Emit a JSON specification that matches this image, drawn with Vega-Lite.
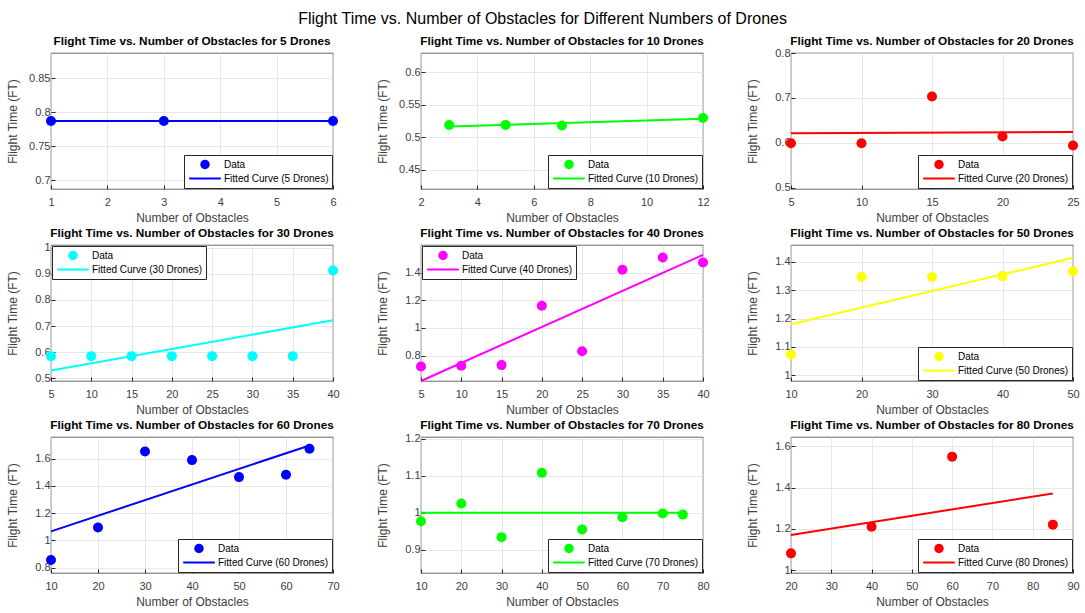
{
  "$schema": "https://vega.github.io/schema/vega-lite/v6.json",
  "title": {"text": "Flight Time vs. Number of Obstacles for Different Numbers of Drones", "fontSize": 16, "fontWeight": "normal", "font": "Liberation Sans", "color": "#000000", "anchor": "middle", "frame": "bounds", "offset": 9},
  "padding": {"left": 5, "right": 5, "top": 10, "bottom": 0},
  "data": {"values": [
    {"n": 5, "obstacles": 1, "ft": 0.787, "series": "Data"},
    {"n": 5, "obstacles": 3, "ft": 0.787, "series": "Data"},
    {"n": 5, "obstacles": 6, "ft": 0.787, "series": "Data"},
    {"n": 5, "obstacles": 1, "ft": 0.787, "series": "Fitted Curve (5 Drones)"},
    {"n": 5, "obstacles": 6, "ft": 0.787, "series": "Fitted Curve (5 Drones)"},
    {"n": 10, "obstacles": 3, "ft": 0.5187, "series": "Data"},
    {"n": 10, "obstacles": 5, "ft": 0.519, "series": "Data"},
    {"n": 10, "obstacles": 7, "ft": 0.518, "series": "Data"},
    {"n": 10, "obstacles": 12, "ft": 0.5295, "series": "Data"},
    {"n": 10, "obstacles": 3, "ft": 0.5165, "series": "Fitted Curve (10 Drones)"},
    {"n": 10, "obstacles": 12, "ft": 0.5285, "series": "Fitted Curve (10 Drones)"},
    {"n": 20, "obstacles": 5, "ft": 0.599, "series": "Data"},
    {"n": 20, "obstacles": 10, "ft": 0.599, "series": "Data"},
    {"n": 20, "obstacles": 15, "ft": 0.703, "series": "Data"},
    {"n": 20, "obstacles": 20, "ft": 0.614, "series": "Data"},
    {"n": 20, "obstacles": 25, "ft": 0.594, "series": "Data"},
    {"n": 20, "obstacles": 5, "ft": 0.621, "series": "Fitted Curve (20 Drones)"},
    {"n": 20, "obstacles": 25, "ft": 0.624, "series": "Fitted Curve (20 Drones)"},
    {"n": 30, "obstacles": 5, "ft": 0.585, "series": "Data"},
    {"n": 30, "obstacles": 10, "ft": 0.585, "series": "Data"},
    {"n": 30, "obstacles": 15, "ft": 0.585, "series": "Data"},
    {"n": 30, "obstacles": 20, "ft": 0.585, "series": "Data"},
    {"n": 30, "obstacles": 25, "ft": 0.585, "series": "Data"},
    {"n": 30, "obstacles": 30, "ft": 0.585, "series": "Data"},
    {"n": 30, "obstacles": 35, "ft": 0.585, "series": "Data"},
    {"n": 30, "obstacles": 40, "ft": 0.9125, "series": "Data"},
    {"n": 30, "obstacles": 5, "ft": 0.53, "series": "Fitted Curve (30 Drones)"},
    {"n": 30, "obstacles": 40, "ft": 0.722, "series": "Fitted Curve (30 Drones)"},
    {"n": 40, "obstacles": 5, "ft": 0.721, "series": "Data"},
    {"n": 40, "obstacles": 10, "ft": 0.726, "series": "Data"},
    {"n": 40, "obstacles": 15, "ft": 0.731, "series": "Data"},
    {"n": 40, "obstacles": 20, "ft": 1.16, "series": "Data"},
    {"n": 40, "obstacles": 25, "ft": 0.831, "series": "Data"},
    {"n": 40, "obstacles": 30, "ft": 1.421, "series": "Data"},
    {"n": 40, "obstacles": 35, "ft": 1.51, "series": "Data"},
    {"n": 40, "obstacles": 40, "ft": 1.474, "series": "Data"},
    {"n": 40, "obstacles": 5, "ft": 0.616, "series": "Fitted Curve (40 Drones)"},
    {"n": 40, "obstacles": 40, "ft": 1.528, "series": "Fitted Curve (40 Drones)"},
    {"n": 50, "obstacles": 10, "ft": 1.073, "series": "Data"},
    {"n": 50, "obstacles": 20, "ft": 1.347, "series": "Data"},
    {"n": 50, "obstacles": 30, "ft": 1.347, "series": "Data"},
    {"n": 50, "obstacles": 40, "ft": 1.35, "series": "Data"},
    {"n": 50, "obstacles": 50, "ft": 1.366, "series": "Data"},
    {"n": 50, "obstacles": 10, "ft": 1.18, "series": "Fitted Curve (50 Drones)"},
    {"n": 50, "obstacles": 50, "ft": 1.415, "series": "Fitted Curve (50 Drones)"},
    {"n": 60, "obstacles": 10, "ft": 0.856, "series": "Data"},
    {"n": 60, "obstacles": 20, "ft": 1.095, "series": "Data"},
    {"n": 60, "obstacles": 30, "ft": 1.653, "series": "Data"},
    {"n": 60, "obstacles": 40, "ft": 1.59, "series": "Data"},
    {"n": 60, "obstacles": 50, "ft": 1.465, "series": "Data"},
    {"n": 60, "obstacles": 60, "ft": 1.483, "series": "Data"},
    {"n": 60, "obstacles": 65, "ft": 1.673, "series": "Data"},
    {"n": 60, "obstacles": 10, "ft": 1.066, "series": "Fitted Curve (60 Drones)"},
    {"n": 60, "obstacles": 65, "ft": 1.698, "series": "Fitted Curve (60 Drones)"},
    {"n": 70, "obstacles": 10, "ft": 0.977, "series": "Data"},
    {"n": 70, "obstacles": 20, "ft": 1.025, "series": "Data"},
    {"n": 70, "obstacles": 30, "ft": 0.934, "series": "Data"},
    {"n": 70, "obstacles": 40, "ft": 1.108, "series": "Data"},
    {"n": 70, "obstacles": 50, "ft": 0.955, "series": "Data"},
    {"n": 70, "obstacles": 60, "ft": 0.988, "series": "Data"},
    {"n": 70, "obstacles": 70, "ft": 0.998, "series": "Data"},
    {"n": 70, "obstacles": 75, "ft": 0.995, "series": "Data"},
    {"n": 70, "obstacles": 10, "ft": 1.0, "series": "Fitted Curve (70 Drones)"},
    {"n": 70, "obstacles": 75, "ft": 1.0, "series": "Fitted Curve (70 Drones)"},
    {"n": 80, "obstacles": 20, "ft": 1.082, "series": "Data"},
    {"n": 80, "obstacles": 40, "ft": 1.211, "series": "Data"},
    {"n": 80, "obstacles": 60, "ft": 1.55, "series": "Data"},
    {"n": 80, "obstacles": 85, "ft": 1.221, "series": "Data"},
    {"n": 80, "obstacles": 20, "ft": 1.171, "series": "Fitted Curve (80 Drones)"},
    {"n": 80, "obstacles": 85, "ft": 1.372, "series": "Fitted Curve (80 Drones)"}
  ]},
  "columns": 3,
  "spacing": {"row": 3, "column": 35},
  "resolve": {"scale": {"color": "independent", "x": "independent", "y": "independent"}, "legend": {"color": "independent"}, "axis": {"x": "independent", "y": "independent"}},
  "concat": [
    {
      "width": 282, "height": 136,
      "title": "Flight Time vs. Number of Obstacles for 5 Drones",
      "transform": [{"filter": "datum.n == 5"}],
      "encoding": {
        "x": {"field": "obstacles", "type": "quantitative", "scale": {"domain": [1, 6], "nice": false, "zero": false}, "axis": {"values": [1, 2, 3, 4, 5, 6], "title": "Number of Obstacles"}},
        "y": {"field": "ft", "type": "quantitative", "scale": {"domain": [0.687, 0.887], "nice": false, "zero": false}, "axis": {"values": [0.7, 0.75, 0.8, 0.85], "format": "~g", "title": "Flight Time (FT)"}},
        "color": {"field": "series", "type": "nominal", "scale": {"domain": ["Data", "Fitted Curve (5 Drones)"], "range": ["#0000ff", "#0000ff"]},
          "legend": {"orient": "bottom-right", "encode": {"symbols": {"update": {"shape": {"signal": "datum.value === 'Data' ? 'circle' : 'stroke'"}, "size": {"signal": "datum.value === 'Data' ? 90 : 1000"}, "fill": {"signal": "datum.value === 'Data' ? '#0000ff' : 'transparent'"}, "stroke": {"value": "#0000ff"}, "strokeWidth": {"signal": "datum.value === 'Data' ? 0 : 2"}, "opacity": {"value": 1}}}}}}
      },
      "layer": [
        {"transform": [{"filter": "datum.series == 'Data'"}], "mark": {"type": "point", "filled": true, "size": 100, "opacity": 1}},
        {"transform": [{"filter": "datum.series != 'Data'"}], "mark": {"type": "line", "strokeWidth": 2}}
      ]
    },
    {
      "width": 282, "height": 136,
      "title": "Flight Time vs. Number of Obstacles for 10 Drones",
      "transform": [{"filter": "datum.n == 10"}],
      "encoding": {
        "x": {"field": "obstacles", "type": "quantitative", "scale": {"domain": [2, 12], "nice": false, "zero": false}, "axis": {"values": [2, 4, 6, 8, 10, 12], "title": "Number of Obstacles"}},
        "y": {"field": "ft", "type": "quantitative", "scale": {"domain": [0.42, 0.63], "nice": false, "zero": false}, "axis": {"values": [0.45, 0.5, 0.55, 0.6], "format": "~g", "title": "Flight Time (FT)"}},
        "color": {"field": "series", "type": "nominal", "scale": {"domain": ["Data", "Fitted Curve (10 Drones)"], "range": ["#00ff00", "#00ff00"]},
          "legend": {"orient": "bottom-right", "encode": {"symbols": {"update": {"shape": {"signal": "datum.value === 'Data' ? 'circle' : 'stroke'"}, "size": {"signal": "datum.value === 'Data' ? 90 : 1000"}, "fill": {"signal": "datum.value === 'Data' ? '#00ff00' : 'transparent'"}, "stroke": {"value": "#00ff00"}, "strokeWidth": {"signal": "datum.value === 'Data' ? 0 : 2"}, "opacity": {"value": 1}}}}}}
      },
      "layer": [
        {"transform": [{"filter": "datum.series == 'Data'"}], "mark": {"type": "point", "filled": true, "size": 100, "opacity": 1}},
        {"transform": [{"filter": "datum.series != 'Data'"}], "mark": {"type": "line", "strokeWidth": 2}}
      ]
    },
    {
      "width": 282, "height": 136,
      "title": {"text": "Flight Time vs. Number of Obstacles for 20 Drones", "offset": -1},
      "transform": [{"filter": "datum.n == 20"}],
      "encoding": {
        "x": {"field": "obstacles", "type": "quantitative", "scale": {"domain": [5, 25], "nice": false, "zero": false}, "axis": {"values": [5, 10, 15, 20, 25], "title": "Number of Obstacles"}},
        "y": {"field": "ft", "type": "quantitative", "scale": {"domain": [0.497, 0.8], "nice": false, "zero": false}, "axis": {"values": [0.5, 0.6, 0.7, 0.8], "format": "~g", "title": "Flight Time (FT)"}},
        "color": {"field": "series", "type": "nominal", "scale": {"domain": ["Data", "Fitted Curve (20 Drones)"], "range": ["#ff0000", "#ff0000"]},
          "legend": {"orient": "bottom-right", "encode": {"symbols": {"update": {"shape": {"signal": "datum.value === 'Data' ? 'circle' : 'stroke'"}, "size": {"signal": "datum.value === 'Data' ? 90 : 1000"}, "fill": {"signal": "datum.value === 'Data' ? '#ff0000' : 'transparent'"}, "stroke": {"value": "#ff0000"}, "strokeWidth": {"signal": "datum.value === 'Data' ? 0 : 2"}, "opacity": {"value": 1}}}}}}
      },
      "layer": [
        {"transform": [{"filter": "datum.series == 'Data'"}], "mark": {"type": "point", "filled": true, "size": 100, "opacity": 1}},
        {"transform": [{"filter": "datum.series != 'Data'"}], "mark": {"type": "line", "strokeWidth": 2}}
      ]
    },
    {
      "width": 282, "height": 136,
      "title": {"text": "Flight Time vs. Number of Obstacles for 30 Drones", "offset": 1.5},
      "transform": [{"filter": "datum.n == 30"}],
      "encoding": {
        "x": {"field": "obstacles", "type": "quantitative", "scale": {"domain": [5, 40], "nice": false, "zero": false}, "axis": {"values": [5, 10, 15, 20, 25, 30, 35, 40], "title": "Number of Obstacles"}},
        "y": {"field": "ft", "type": "quantitative", "scale": {"domain": [0.49, 1.01], "nice": false, "zero": false}, "axis": {"values": [0.5, 0.6, 0.7, 0.8, 0.9, 1], "format": "~g", "title": "Flight Time (FT)"}},
        "color": {"field": "series", "type": "nominal", "scale": {"domain": ["Data", "Fitted Curve (30 Drones)"], "range": ["#00ffff", "#00ffff"]},
          "legend": {"orient": "top-left", "encode": {"symbols": {"update": {"shape": {"signal": "datum.value === 'Data' ? 'circle' : 'stroke'"}, "size": {"signal": "datum.value === 'Data' ? 90 : 1000"}, "fill": {"signal": "datum.value === 'Data' ? '#00ffff' : 'transparent'"}, "stroke": {"value": "#00ffff"}, "strokeWidth": {"signal": "datum.value === 'Data' ? 0 : 2"}, "opacity": {"value": 1}}}}}}
      },
      "layer": [
        {"transform": [{"filter": "datum.series == 'Data'"}], "mark": {"type": "point", "filled": true, "size": 100, "opacity": 1}},
        {"transform": [{"filter": "datum.series != 'Data'"}], "mark": {"type": "line", "strokeWidth": 2}}
      ]
    },
    {
      "width": 282, "height": 136,
      "title": "Flight Time vs. Number of Obstacles for 40 Drones",
      "transform": [{"filter": "datum.n == 40"}],
      "encoding": {
        "x": {"field": "obstacles", "type": "quantitative", "scale": {"domain": [5, 40], "nice": false, "zero": false}, "axis": {"values": [5, 10, 15, 20, 25, 30, 35, 40], "title": "Number of Obstacles"}},
        "y": {"field": "ft", "type": "quantitative", "scale": {"domain": [0.616, 1.6], "nice": false, "zero": false}, "axis": {"values": [0.8, 1, 1.2, 1.4], "format": "~g", "title": "Flight Time (FT)"}},
        "color": {"field": "series", "type": "nominal", "scale": {"domain": ["Data", "Fitted Curve (40 Drones)"], "range": ["#ff00ff", "#ff00ff"]},
          "legend": {"orient": "top-left", "encode": {"symbols": {"update": {"shape": {"signal": "datum.value === 'Data' ? 'circle' : 'stroke'"}, "size": {"signal": "datum.value === 'Data' ? 90 : 1000"}, "fill": {"signal": "datum.value === 'Data' ? '#ff00ff' : 'transparent'"}, "stroke": {"value": "#ff00ff"}, "strokeWidth": {"signal": "datum.value === 'Data' ? 0 : 2"}, "opacity": {"value": 1}}}}}}
      },
      "layer": [
        {"transform": [{"filter": "datum.series == 'Data'"}], "mark": {"type": "point", "filled": true, "size": 100, "opacity": 1}},
        {"transform": [{"filter": "datum.series != 'Data'"}], "mark": {"type": "line", "strokeWidth": 2}}
      ]
    },
    {
      "width": 282, "height": 136,
      "title": "Flight Time vs. Number of Obstacles for 50 Drones",
      "transform": [{"filter": "datum.n == 50"}],
      "encoding": {
        "x": {"field": "obstacles", "type": "quantitative", "scale": {"domain": [10, 50], "nice": false, "zero": false}, "axis": {"values": [10, 20, 30, 40, 50], "title": "Number of Obstacles"}},
        "y": {"field": "ft", "type": "quantitative", "scale": {"domain": [0.979, 1.46], "nice": false, "zero": false}, "axis": {"values": [1, 1.1, 1.2, 1.3, 1.4], "format": "~g", "title": "Flight Time (FT)"}},
        "color": {"field": "series", "type": "nominal", "scale": {"domain": ["Data", "Fitted Curve (50 Drones)"], "range": ["#ffff00", "#ffff00"]},
          "legend": {"orient": "bottom-right", "encode": {"symbols": {"update": {"shape": {"signal": "datum.value === 'Data' ? 'circle' : 'stroke'"}, "size": {"signal": "datum.value === 'Data' ? 90 : 1000"}, "fill": {"signal": "datum.value === 'Data' ? '#ffff00' : 'transparent'"}, "stroke": {"value": "#ffff00"}, "strokeWidth": {"signal": "datum.value === 'Data' ? 0 : 2"}, "opacity": {"value": 1}}}}}}
      },
      "layer": [
        {"transform": [{"filter": "datum.series == 'Data'"}], "mark": {"type": "point", "filled": true, "size": 100, "opacity": 1}},
        {"transform": [{"filter": "datum.series != 'Data'"}], "mark": {"type": "line", "strokeWidth": 2}}
      ]
    },
    {
      "width": 282, "height": 136,
      "title": "Flight Time vs. Number of Obstacles for 60 Drones",
      "transform": [{"filter": "datum.n == 60"}],
      "encoding": {
        "x": {"field": "obstacles", "type": "quantitative", "scale": {"domain": [10, 70], "nice": false, "zero": false}, "axis": {"values": [10, 20, 30, 40, 50, 60, 70], "title": "Number of Obstacles"}},
        "y": {"field": "ft", "type": "quantitative", "scale": {"domain": [0.76, 1.76], "nice": false, "zero": false}, "axis": {"values": [0.8, 1, 1.2, 1.4, 1.6], "format": "~g", "title": "Flight Time (FT)"}},
        "color": {"field": "series", "type": "nominal", "scale": {"domain": ["Data", "Fitted Curve (60 Drones)"], "range": ["#0000ff", "#0000ff"]},
          "legend": {"orient": "bottom-right", "encode": {"symbols": {"update": {"shape": {"signal": "datum.value === 'Data' ? 'circle' : 'stroke'"}, "size": {"signal": "datum.value === 'Data' ? 90 : 1000"}, "fill": {"signal": "datum.value === 'Data' ? '#0000ff' : 'transparent'"}, "stroke": {"value": "#0000ff"}, "strokeWidth": {"signal": "datum.value === 'Data' ? 0 : 2"}, "opacity": {"value": 1}}}}}}
      },
      "layer": [
        {"transform": [{"filter": "datum.series == 'Data'"}], "mark": {"type": "point", "filled": true, "size": 100, "opacity": 1}},
        {"transform": [{"filter": "datum.series != 'Data'"}], "mark": {"type": "line", "strokeWidth": 2}}
      ]
    },
    {
      "width": 282, "height": 136,
      "title": {"text": "Flight Time vs. Number of Obstacles for 70 Drones", "offset": 1},
      "transform": [{"filter": "datum.n == 70"}],
      "encoding": {
        "x": {"field": "obstacles", "type": "quantitative", "scale": {"domain": [10, 80], "nice": false, "zero": false}, "axis": {"values": [10, 20, 30, 40, 50, 60, 70, 80], "title": "Number of Obstacles"}},
        "y": {"field": "ft", "type": "quantitative", "scale": {"domain": [0.837, 1.205], "nice": false, "zero": false}, "axis": {"values": [0.9, 1, 1.1, 1.2], "format": "~g", "title": "Flight Time (FT)"}},
        "color": {"field": "series", "type": "nominal", "scale": {"domain": ["Data", "Fitted Curve (70 Drones)"], "range": ["#00ff00", "#00ff00"]},
          "legend": {"orient": "bottom-right", "encode": {"symbols": {"update": {"shape": {"signal": "datum.value === 'Data' ? 'circle' : 'stroke'"}, "size": {"signal": "datum.value === 'Data' ? 90 : 1000"}, "fill": {"signal": "datum.value === 'Data' ? '#00ff00' : 'transparent'"}, "stroke": {"value": "#00ff00"}, "strokeWidth": {"signal": "datum.value === 'Data' ? 0 : 2"}, "opacity": {"value": 1}}}}}}
      },
      "layer": [
        {"transform": [{"filter": "datum.series == 'Data'"}], "mark": {"type": "point", "filled": true, "size": 100, "opacity": 1}},
        {"transform": [{"filter": "datum.series != 'Data'"}], "mark": {"type": "line", "strokeWidth": 2}}
      ]
    },
    {
      "width": 282, "height": 136,
      "title": "Flight Time vs. Number of Obstacles for 80 Drones",
      "transform": [{"filter": "datum.n == 80"}],
      "encoding": {
        "x": {"field": "obstacles", "type": "quantitative", "scale": {"domain": [20, 90], "nice": false, "zero": false}, "axis": {"values": [20, 30, 40, 50, 60, 70, 80, 90], "title": "Number of Obstacles"}},
        "y": {"field": "ft", "type": "quantitative", "scale": {"domain": [0.987, 1.645], "nice": false, "zero": false}, "axis": {"values": [1, 1.2, 1.4, 1.6], "format": "~g", "title": "Flight Time (FT)"}},
        "color": {"field": "series", "type": "nominal", "scale": {"domain": ["Data", "Fitted Curve (80 Drones)"], "range": ["#ff0000", "#ff0000"]},
          "legend": {"orient": "bottom-right", "encode": {"symbols": {"update": {"shape": {"signal": "datum.value === 'Data' ? 'circle' : 'stroke'"}, "size": {"signal": "datum.value === 'Data' ? 90 : 1000"}, "fill": {"signal": "datum.value === 'Data' ? '#ff0000' : 'transparent'"}, "stroke": {"value": "#ff0000"}, "strokeWidth": {"signal": "datum.value === 'Data' ? 0 : 2"}, "opacity": {"value": 1}}}}}}
      },
      "layer": [
        {"transform": [{"filter": "datum.series == 'Data'"}], "mark": {"type": "point", "filled": true, "size": 100, "opacity": 1}},
        {"transform": [{"filter": "datum.series != 'Data'"}], "mark": {"type": "line", "strokeWidth": 2}}
      ]
    }
  ],
  "config": {
    "font": "Liberation Sans",
    "background": "#ffffff",
    "view": {"stroke": "#262626", "strokeWidth": 0.7},
    "title": {"fontSize": 11.8, "fontWeight": "bold", "font": "Liberation Sans", "color": "#000000", "offset": 5, "anchor": "middle"},
    "axis": {"labelFont": "Liberation Sans", "labelFontSize": 11, "labelColor": "#404040", "titleFont": "Liberation Sans", "titleFontSize": 12, "titleFontWeight": "normal", "titleColor": "#404040", "gridColor": "#dedede", "gridWidth": 0.7, "domain": false, "ticks": true, "tickSize": -4, "tickColor": "#262626", "labelPadding": 5, "labelFlush": false, "labelOverlap": false},
    "axisY": {"minExtent": 26, "maxExtent": 26, "titlePadding": 6},
    "axisX": {"titlePadding": 5, "labelPadding": 11},
    "legend": {"title": null, "offset": 1, "padding": 3, "strokeColor": "#262626", "fillColor": "#ffffff", "labelFontSize": 10, "labelColor": "#000000", "labelFont": "Liberation Sans", "symbolSize": 100, "clipHeight": 13, "rowPadding": 1, "symbolOffset": 13, "labelOffset": 14, "labelLimit": 300, "cornerRadius": 0}
  }
}
